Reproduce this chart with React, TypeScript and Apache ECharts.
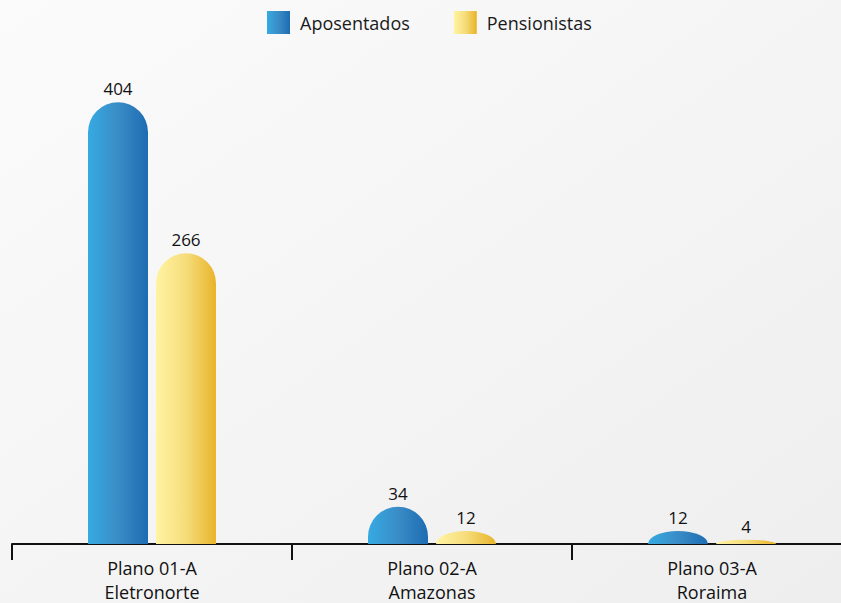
import React, { useEffect, useRef } from "react";
import * as echarts from "echarts";

const categories = ["Plano 01-A\nEletronorte", "Plano 02-A\nAmazonas", "Plano 03-A\nRoraima"];
const aposentados = [404, 34, 12];
const pensionistas = [266, 12, 4];
const seriesNames = ["Aposentados", "Pensionistas"];

const FONT = "'Open Sans', sans-serif";
const BAR_W = 60;
const BAR_GAP = 8;

function makeBlue() {
  return new echarts.graphic.LinearGradient(0, 0, 1, 0, [
    { offset: 0, color: "#36aae2" },
    { offset: 0.5, color: "#3a8cc6" },
    { offset: 1, color: "#1d6cb2" },
  ]);
}
function makeYellow() {
  return new echarts.graphic.LinearGradient(0, 0, 1, 0, [
    { offset: 0, color: "#fff4a3" },
    { offset: 0.5, color: "#f6dc7a" },
    { offset: 1, color: "#e8b42a" },
  ]);
}

function domeRenderer(seriesIdx: number, makeFill: () => any) {
  return (params: any, api: any) => {
    const idx = api.value(0);
    const val = api.value(1);
    const top = api.coord([idx, val]);
    const base = api.coord([idx, 0]);
    const offset = seriesIdx === 0 ? -(BAR_W + BAR_GAP) / 2 : (BAR_W + BAR_GAP) / 2;
    const cx = top[0] + offset;
    const x0 = cx - BAR_W / 2;
    const x1 = cx + BAR_W / 2;
    const yb = base[1];
    const yt = top[1];
    const h = yb - yt;
    const rx = BAR_W / 2;
    const ry = Math.min(rx, h);
    const d = `M ${x0} ${yb} L ${x0} ${yt + ry} A ${rx} ${ry} 0 0 1 ${x1} ${yt + ry} L ${x1} ${yb} Z`;
    return {
      type: "group",
      children: [
        { type: "path", shape: { pathData: d }, style: { fill: makeFill() } },
        {
          type: "text",
          style: {
            text: String(val),
            x: cx,
            y: yt - 5,
            align: "center",
            verticalAlign: "bottom",
            fontSize: 17,
            fontFamily: FONT,
            fill: "#111",
          },
        },
      ],
    };
  };
}

export default function App() {
  const ref = useRef<HTMLDivElement>(null);
  useEffect(() => {
    document.body.style.margin = "0";
    const chart = echarts.init(ref.current!, undefined, { renderer: "svg" });
    chart.setOption({
      animation: false,
      backgroundColor: new echarts.graphic.LinearGradient(0, 0, 1, 1, [
        { offset: 0, color: "#fbfbfc" },
        { offset: 1, color: "#eeeeef" },
      ]),
      textStyle: { fontFamily: FONT },
      legend: {
        top: 6,
        left: 262,
        itemWidth: 23,
        itemHeight: 23,
        itemGap: 44,
        icon: "rect",
        textStyle: { fontSize: 18, color: "#1a1a1a", fontFamily: FONT, padding: [0, 0, 0, 5] },
        data: seriesNames,
      },
      grid: { left: 12, width: 840, top: 52, bottom: 59, outerBoundsMode: "none", containLabel: false },
      xAxis: {
        type: "category",
        data: categories,
        axisLine: { lineStyle: { color: "#111", width: 2 } },
        axisTick: { show: true, length: 16, interval: 0, lineStyle: { color: "#111", width: 2 } },
        axisLabel: {
          margin: 12,
          fontSize: 18,
          lineHeight: 24,
          color: "#111",
          fontFamily: FONT,
        },
      },
      yAxis: { type: "value", min: 0, max: 450, show: false, splitLine: { show: false } },
      series: [
        {
          name: seriesNames[0],
          type: "custom",
          data: aposentados.map((v, i) => [i, v]),
          itemStyle: { color: makeBlue() },
          renderItem: domeRenderer(0, makeBlue),
          z: 3,
        },
        {
          name: seriesNames[1],
          type: "custom",
          data: pensionistas.map((v, i) => [i, v]),
          itemStyle: { color: makeYellow() },
          renderItem: domeRenderer(1, makeYellow),
          z: 3,
        },
      ],
    });
    return () => chart.dispose();
  }, []);
  return <div ref={ref} style={{ width: 841, height: 603 }} />;
}
